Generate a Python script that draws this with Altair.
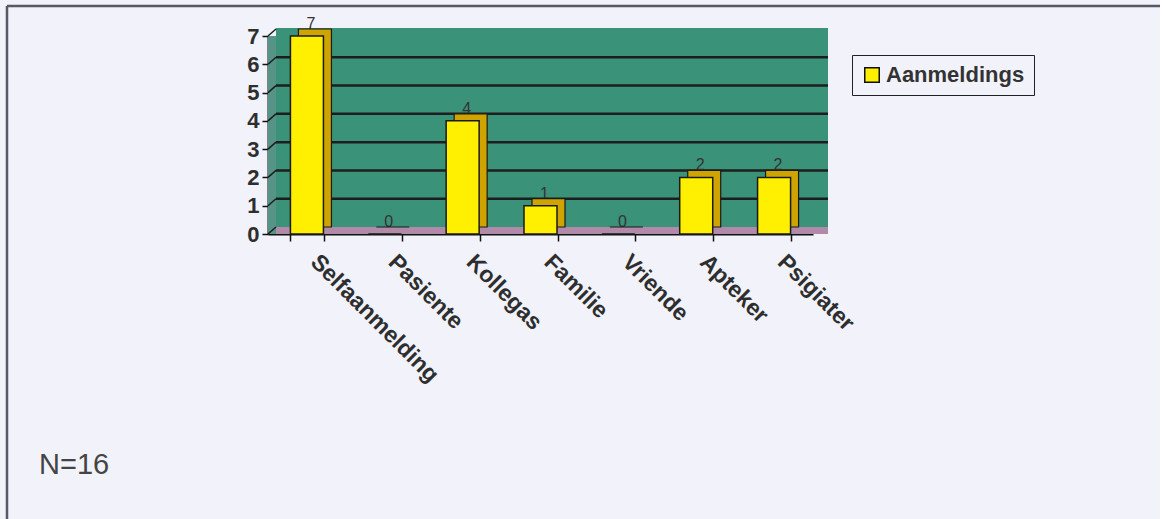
import altair as alt
import pandas as pd

# ---- data ----
categories = ["Selfaanmelding", "Pasiente", "Kollegas", "Familie", "Vriende", "Apteker", "Psigiater"]
values = [7, 0, 4, 1, 0, 2, 2]
series_name = "Aanmeldings"
y_ticks = [0, 1, 2, 3, 4, 5, 6, 7]
grid_values = [1, 2, 3, 4, 5, 6]
note = "N=16"

df = pd.DataFrame({"cat": categories, "val": values, "series": [series_name] * len(categories)})
grid_df = pd.DataFrame({"g": grid_values})
tick_df = pd.DataFrame({"g": y_ticks})
one = alt.Data(values=[{}])

W, H = 545, 198
DX, DY = 8, -7
FONT = "Liberation Sans"
TOTAL_W = 1160
TOTAL_H = 519

xscale = alt.Scale(domain=categories, paddingInner=0.56, paddingOuter=0.28)
yscale = alt.Scale(domain=[0, 7], nice=False)

x_axis = alt.Axis(
    labelAngle=45, labelAlign="left", labelBaseline="middle",
    labelFont=FONT, labelFontSize=23, labelFontWeight="bold", labelColor="#2e2e2e",
    labelPadding=17, labelOffset=7, tickBand="extent", tickColor="#111", tickSize=7, tickWidth=1.5,
    domainColor="#111", domainWidth=2, grid=False, labelOverlap=False, title=None,
)
y_axis = alt.Axis(
    values=y_ticks, labelFont=FONT, labelFontSize=22, labelFontWeight="bold",
    labelColor="#2e2e2e", tickColor="#111", tickSize=6, tickWidth=1.5,
    domainColor="#111", domainWidth=2, grid=False, labelPadding=3, title=None,
)

def X():
    return alt.X("cat:N", scale=xscale, sort=categories, axis=x_axis)

def Y(field="val:Q"):
    return alt.Y(field, scale=yscale, axis=y_axis)

wall = alt.Chart(one).mark_rect(color="#3a9278").encode(
    x=alt.value(DX), x2=alt.value(W + 15), y=alt.value(DY - 1), y2=alt.value(H + DY)
)
floor = alt.Chart(one).mark_rect(color="#b08aa8").encode(
    x=alt.value(0), x2=alt.value(W + 15), y=alt.value(H + DY), y2=alt.value(H)
)
left_wall = alt.Chart(one).mark_rect(color="#559486").encode(
    x=alt.value(0), x2=alt.value(DX), y=alt.value(0), y2=alt.value(H)
)

grid = alt.Chart(grid_df).mark_rule(color="#1e1e1e", strokeWidth=2.5, yOffset=DY).encode(
    y=Y("g:Q"),
    x=alt.value(DX), x2=alt.value(W + 15),
)
connectors = alt.Chart(tick_df).mark_rule(color="#1e1e1e", strokeWidth=1.5, y2Offset=DY).encode(
    y=Y("g:Q"),
    y2="g:Q",
    x=alt.value(0), x2=alt.value(DX),
)

labels = alt.Chart(df).mark_text(
    font=FONT, fontSize=16, color="#333333", xOffset=4, yOffset=-12
).encode(x=X(), y=Y(), text="val:Q")

depth = alt.Chart(df).mark_bar(
    size=33, color="#cfa300", stroke="#1a1a1a", strokeWidth=1.2, xOffset=DX, yOffset=DY
).encode(x=X(), y=Y())

front = alt.Chart(df).mark_bar(size=33, stroke="#1a1a1a", strokeWidth=1.5).encode(
    x=X(),
    y=Y(),
    color=alt.Color(
        "series:N", scale=alt.Scale(range=["#ffef00"]),
        legend=alt.Legend(
            title=None, orient="none", legendX=584, legendY=19,
            labelFont=FONT, labelFontSize=22, labelFontWeight="bold", labelColor="#333333",
            symbolType="square", symbolSize=210, symbolStrokeColor="#111", symbolStrokeWidth=1.5,
            symbolFillColor="#ffef00", strokeColor="#222", padding=9, labelOffset=3,
        ),
    ),
)

frame_top = alt.Chart(one).mark_rule(color="#555a66", strokeWidth=2.5).encode(
    x=alt.value(-261), x2=alt.value(TOTAL_W - 268), y=alt.value(-30)
)
frame_left = alt.Chart(one).mark_rule(color="#555a66", strokeWidth=2.5).encode(
    x=alt.value(-261), y=alt.value(-30), y2=alt.value(TOTAL_H - 36)
)
note_text = alt.Chart(one).mark_text(
    text=note, font=FONT, fontSize=29, color="#444444", align="left", baseline="middle"
).encode(x=alt.value(-229), y=alt.value(429))

chart = alt.layer(
    wall, floor, left_wall, grid, connectors, labels, depth, front,
    frame_top, frame_left, note_text,
).properties(
    width=W, height=H,
    autosize=alt.AutoSizeParams(type="none"),
    padding={"left": 268, "top": 36, "right": TOTAL_W - 268 - W, "bottom": TOTAL_H - 36 - H},
    background="#f1f2fa",
).configure_view(stroke=None)

chart.save("out.html", embed_options={"renderer": "svg", "actions": False})
